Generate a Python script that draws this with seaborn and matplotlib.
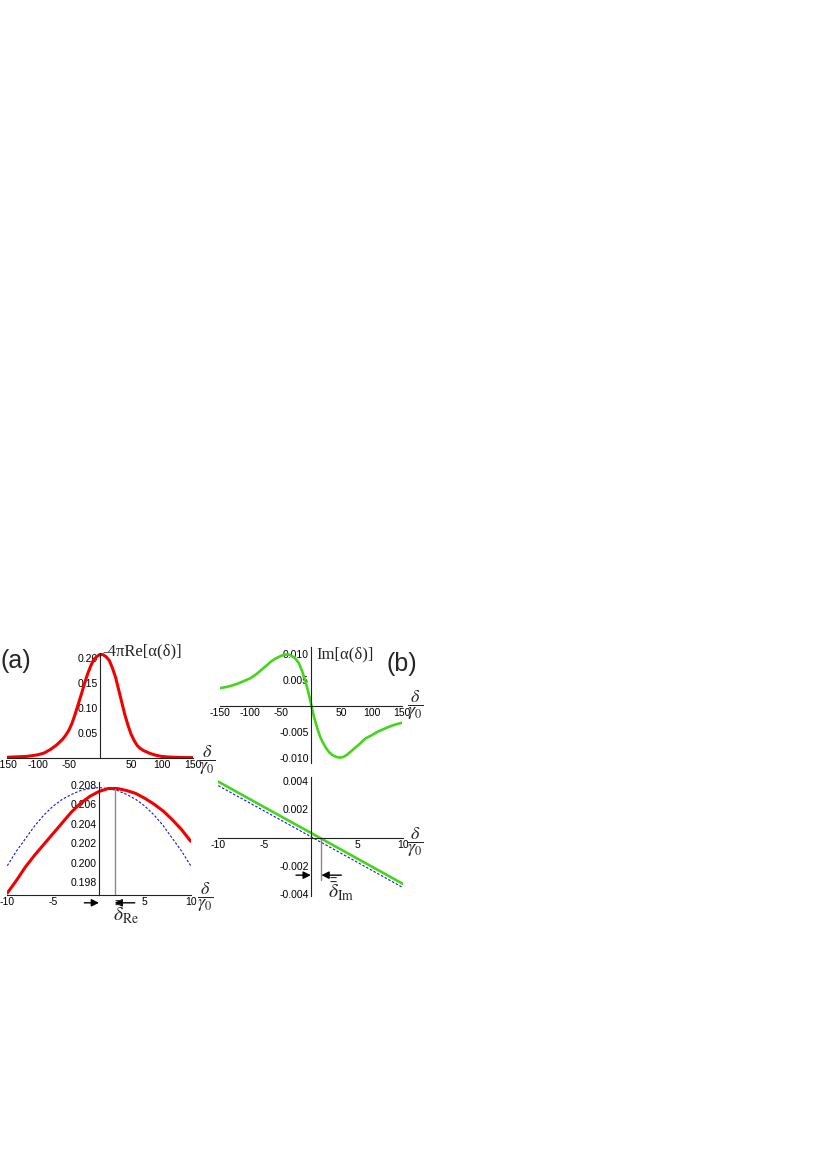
import matplotlib
matplotlib.use("Agg")
import matplotlib.pyplot as plt
import seaborn as sns
from matplotlib.ticker import MultipleLocator

sns.set_style("white")
plt.rcParams["font.family"] = ["Liberation Sans", "DejaVu Sans"]
plt.rcParams["axes.unicode_minus"] = False
plt.rcParams["mathtext.fontset"] = "stix"

# --- data ---
# (a) top: -4 pi Re[alpha(delta)] over the wide detuning range
x_wide = [-150, -140, -130, -120, -110, -100, -90, -80, -70, -65, -60, -55, -50, -45, -40, -35,
          -30, -25, -20, -15, -10, -5, 0, 5, 10, 15, 20, 25, 30, 35, 40, 45, 50, 55, 60, 65,
          70, 80, 90, 100, 110, 120, 130, 140, 150]
re_wide = [0.0015, 0.002, 0.0025, 0.003, 0.0045, 0.0065, 0.010, 0.017, 0.026, 0.032, 0.038,
           0.046, 0.056, 0.070, 0.088, 0.108, 0.128, 0.149, 0.168, 0.184, 0.197, 0.2030,
           0.2073, 0.2066, 0.2022, 0.195, 0.180, 0.162, 0.137, 0.112, 0.087, 0.066, 0.048,
           0.035, 0.025, 0.019, 0.015, 0.0095, 0.0055, 0.003, 0.002, 0.0015, 0.001, 0.0008,
           0.0007]
# (b) top: Im[alpha(delta)]
im_wide = [0.0034, 0.0036, 0.0039, 0.0043, 0.0048, 0.0053, 0.0061, 0.0071, 0.0081, 0.0086,
           0.0090, 0.0093, 0.0096, 0.0098, 0.0099, 0.0098, 0.0095, 0.0090, 0.0082, 0.0068,
           0.0050, 0.0029, 0.0004, -0.0022, -0.0042, -0.0060, -0.0072, -0.0082, -0.0090,
           -0.0095, -0.0098, -0.0100, -0.0100, -0.0098, -0.0094, -0.0089, -0.0084, -0.0074,
           -0.0063, -0.0057, -0.0050, -0.0045, -0.0040, -0.0036, -0.0033]

# (a) bottom: close-up around the maximum
x_near = [-10, -9, -8, -7, -6, -5, -4, -3, -2, -1, 0, 1, 2, 3, 4, 5, 6, 7, 8, 9, 10]
re_near = [0.1969, 0.1982, 0.1996, 0.2008, 0.2019, 0.2030, 0.2041, 0.2052, 0.2061, 0.2068, 0.2073,
           0.2076, 0.2076, 0.2074, 0.2071, 0.2066, 0.2060, 0.2053, 0.2044, 0.2034, 0.2022]
re_near_ref = [0.1997, 0.2012, 0.2025, 0.2038, 0.2049, 0.2058, 0.2065, 0.2070, 0.2074, 0.2076, 0.2077,
               0.2076, 0.2074, 0.2070, 0.2065, 0.2058, 0.2049, 0.2038, 0.2025, 0.2012, 0.1997]
# (b) bottom: close-up around the zero crossing
x_lin = [-10, -5, 0, 5, 10]
im_near = [0.00395, 0.00214, 0.00034, -0.00147, -0.00328]
im_near_ref = [0.00367, 0.00187, 0.00007, -0.00173, -0.00354]

delta_re = 1.7    # shift of the Re maximum
delta_im = 1.15   # shift of the Im zero crossing

wide_xticks = [-150, -100, -50, 50, 100, 150]
near_xticks = [-10, -5, 5, 10]
re_wide_yticks = [0.05, 0.10, 0.15, 0.20]
re_near_yticks = [0.198, 0.200, 0.202, 0.204, 0.206, 0.208]
im_wide_yticks = [-0.010, -0.005, 0.005, 0.010]
im_near_yticks = [-0.004, -0.002, 0.002, 0.004]

RED = "#f20000"
GREEN = "#44d61a"
BLUE = "#1414e6"

W, H = 827, 1168
fig = plt.figure(figsize=(W / 100, H / 100), dpi=100)


def box(x0, x1, y0, y1):
    return [x0 / W, 1 - y1 / H, (x1 - x0) / W, (y1 - y0) / H]


def fx(px):
    return px / W


def fy(py):
    return 1 - py / H


def axis_style(ax, xlim, ylim, xticks, xminor, yticks, yfmt, yminor, xcross):
    ax.set_xlim(*xlim)
    ax.set_ylim(*ylim)
    for s in ["top", "right"]:
        ax.spines[s].set_visible(False)
    ax.spines["left"].set_position(("data", 0))
    ax.spines["bottom"].set_position(("data", xcross))
    for s in ["left", "bottom"]:
        ax.spines[s].set_linewidth(0.8)
        ax.spines[s].set_color("#222222")
    ax.set_xticks(xticks)
    ax.set_xticklabels([str(t) for t in xticks])
    ax.set_yticks(yticks)
    ax.set_yticklabels([yfmt.format(t) for t in yticks])
    ax.xaxis.set_minor_locator(MultipleLocator(xminor))
    ax.yaxis.set_minor_locator(MultipleLocator(yminor))
    ax.tick_params(which="both", direction="in", width=0.6, colors="#222222",
                   labelsize=7.5, pad=1.5, labelcolor="black")
    ax.tick_params(which="major", length=3)
    ax.tick_params(which="minor", length=1.6)
    ax.set_xlabel("")
    ax.set_ylabel("")
    ax.patch.set_alpha(0)


def frac(x, y):
    fig.text(fx(x), fy(y), r"$\dfrac{\delta}{\gamma_0}$", fontsize=13,
             ha="center", va="center")


def arrow(ax, x_to, x_from, y):
    ax.annotate("", xy=(x_to, y), xytext=(x_from, y), annotation_clip=False,
                arrowprops=dict(arrowstyle="-|>", color="black", lw=1.0,
                                mutation_scale=11, shrinkA=0, shrinkB=0))


# (a) top
ax1 = fig.add_axes(box(7, 193, 653, 758))
sns.lineplot(x=x_wide, y=re_wide, ax=ax1, color=RED, linewidth=2.2)
axis_style(ax1, (-150, 150), (0, 0.21), wide_xticks, 10, re_wide_yticks, "{:.2f}", 0.01, 0)

# (a) bottom
ax2 = fig.add_axes(box(7.3, 190.7, 781.7, 895))
sns.lineplot(x=x_near, y=re_near_ref, ax=ax2, color=BLUE, linewidth=0.8)
ax2.lines[-1].set_dashes([2.2, 1.6])
sns.lineplot(x=x_near, y=re_near, ax=ax2, color=RED, linewidth=2.2)
axis_style(ax2, (-10, 10), (0.1967, 0.2083), near_xticks, 1, re_near_yticks, "{:.3f}", 0.0005, 0.1967)
ax2.plot([delta_re, delta_re], [0.1967, max(re_near)], color="#8a8a8a", linewidth=1.0)
arrow(ax2, 0, -1.6, 0.1959)
arrow(ax2, delta_re, 3.9, 0.1959)

# (b) top
ax3 = fig.add_axes(box(220, 402, 647.2, 763.2))
sns.lineplot(x=x_wide, y=im_wide, ax=ax3, color=GREEN, linewidth=1.9)
axis_style(ax3, (-150, 150), (-0.0111, 0.0113), wide_xticks, 10, im_wide_yticks, "{:.3f}", 0.001, 0)

# (b) bottom
ax4 = fig.add_axes(box(218.3, 403.3, 776.7, 895.7))
sns.lineplot(x=x_lin, y=im_near_ref, ax=ax4, color=BLUE, linewidth=0.8)
ax4.lines[-1].set_dashes([2.2, 1.6])
sns.lineplot(x=x_lin, y=im_near, ax=ax4, color=GREEN, linewidth=1.9)
axis_style(ax4, (-10, 10), (-0.0041, 0.0043), near_xticks, 1, im_near_yticks, "{:.3f}", 0.0005, 0)
ax4.plot([delta_im, delta_im], [0, -0.003], color="#8a8a8a", linewidth=1.0)
arrow(ax4, 0, -1.6, -0.00265)
arrow(ax4, delta_im, 3.3, -0.00265)

# labels
serif = ["Liberation Serif", "DejaVu Serif"]
fig.text(fx(102), fy(651), "-4\u03c0Re[\u03b1(\u03b4)]", family=serif, fontsize=12,
         ha="left", va="center")
fig.text(fx(316), fy(654), "Im[\u03b1(\u03b4)]", family=serif, fontsize=12,
         ha="left", va="center")
fig.text(fx(0), fy(661), "(a)", fontsize=18, ha="left", va="center")
fig.text(fx(386), fy(664), "(b)", fontsize=18, ha="left", va="center")
frac(207, 760)
frac(415, 705)
frac(205, 897)
frac(415, 842)
fig.text(fx(126), fy(913), r"$\bar{\bar{\delta}}_{\mathrm{Re}}$", fontsize=14,
         ha="center", va="center")
fig.text(fx(341), fy(890), r"$\bar{\bar{\delta}}_{\mathrm{Im}}$", fontsize=14,
         ha="center", va="center")

fig.savefig("out.png", dpi=100)
